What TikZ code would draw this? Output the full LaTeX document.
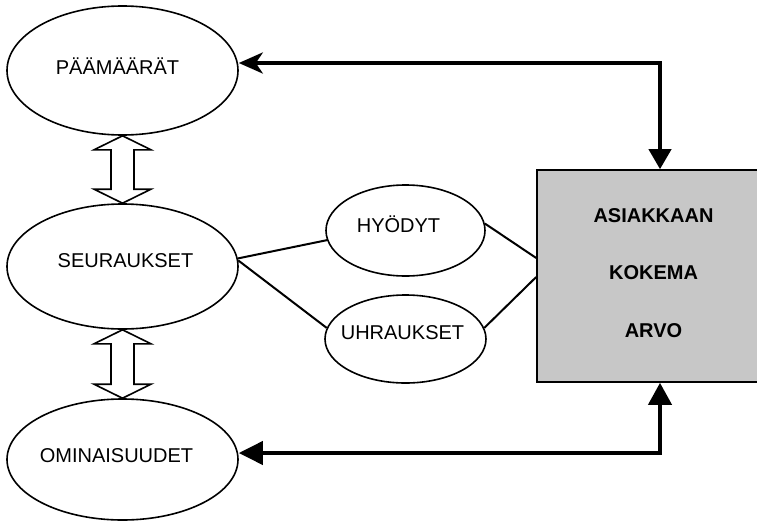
\documentclass[tikz,border=0pt]{standalone}
\usepackage{fontspec}
\setmainfont{Liberation Sans}
\usetikzlibrary{shapes.geometric,arrows.meta,calc}
\definecolor{boxgray}{RGB}{199,199,199}

% hollow two-headed arrow between the bottom of #1 and the top of #2
\newcommand{\twowayarrow}[2]{%
  \draw[hollow] (#1.south) -- ++(28.5,14) -- ++(-17,0)
    -- ($(#2.north)+(11.5,-14)$) -- ++(17,0) -- (#2.north)
    -- ++(-28.5,-14) -- ++(17,0)
    -- ($(#1.south)+(-11.5,14)$) -- ++(-17,0) -- cycle;}

\begin{document}
\begin{tikzpicture}[x=1pt,y=-1pt,
  oval/.style={draw, line width=1.6pt, ellipse, inner sep=0pt},
  caption/.style={font=\fontsize{20}{24}\selectfont, text height=14.3pt,
    text depth=0pt, inner sep=0pt},
  boldcaption/.style={caption, font=\fontsize{20}{24}\selectfont\bfseries},
  link/.style={line width=2pt},
  hollow/.style={draw, line width=1.6pt, line join=miter, fill=white},
  flow/.style={line width=4pt, line join=miter},
]
\useasboundingbox (0,0) rectangle (757,522);

% left column
\node[oval, minimum width=231pt, minimum height=129pt] (goals) at (122.5,70.5) {};
\node[caption] at ([xshift=-5pt,yshift=3.5pt]goals.center) {PÄÄMÄÄRÄT};
\node[oval, minimum width=231pt, minimum height=125pt] (cons) at (122.5,266.5) {};
\node[caption] at ([xshift=3pt,yshift=6.5pt]cons.center) {SEURAUKSET};
\node[oval, minimum width=231pt, minimum height=121pt] (traits) at (122.5,459.5) {};
\node[caption] at ([xshift=-6pt,yshift=4.5pt]traits.center) {OMINAISUUDET};

% benefits and sacrifices
\node[oval, minimum width=159pt, minimum height=91pt] (gain) at (405.5,230.5) {};
\node[caption] at ([xshift=-7pt,yshift=5.5pt]gain.center) {HYÖDYT};
\node[oval, minimum width=161pt, minimum height=88pt] (cost) at (405.5,339) {};
\node[caption] at ([xshift=-3pt,yshift=7pt]cost.center) {UHRAUKSET};

% perceived value box
\node[draw, line width=1.6pt, fill=boxgray, inner sep=0pt,
  minimum width=233pt, minimum height=212pt] (value) at (653.5,276) {};
\node[boldcaption] at ([yshift=61pt]value.center) {ASIAKKAAN};
\node[boldcaption] at ([yshift=4pt]value.center) {KOKEMA};
\node[boldcaption] at ([yshift=-54pt]value.center) {ARVO};

% hollow arrows in the left column
\twowayarrow{goals}{cons}
\twowayarrow{cons}{traits}

% thin connectors
\draw[link] (cons.4) -- (gain.187);
\draw[link] (cons.3) -- (cost.172);
\draw[link] (gain.5) -- ([yshift=18pt]value.west);
\draw[link] (cost.8) -- ([yshift=-1pt]value.west);

% feedback loops
\coordinate (topturn) at (660,63);
\coordinate (botturn) at (660,453);
\draw[flow, {Stealth[length=24pt,width=21pt,inset=7pt]}-{Triangle[length=20pt,width=22pt]}]
  (topturn -| goals.east) -- (topturn) -- (topturn |- value.north);
\draw[flow, {Triangle[length=24pt,width=23pt]}-{Triangle[length=22pt,width=23pt]}]
  (botturn -| traits.east) -- (botturn) -- (botturn |- value.south);
\end{tikzpicture}
\end{document}
